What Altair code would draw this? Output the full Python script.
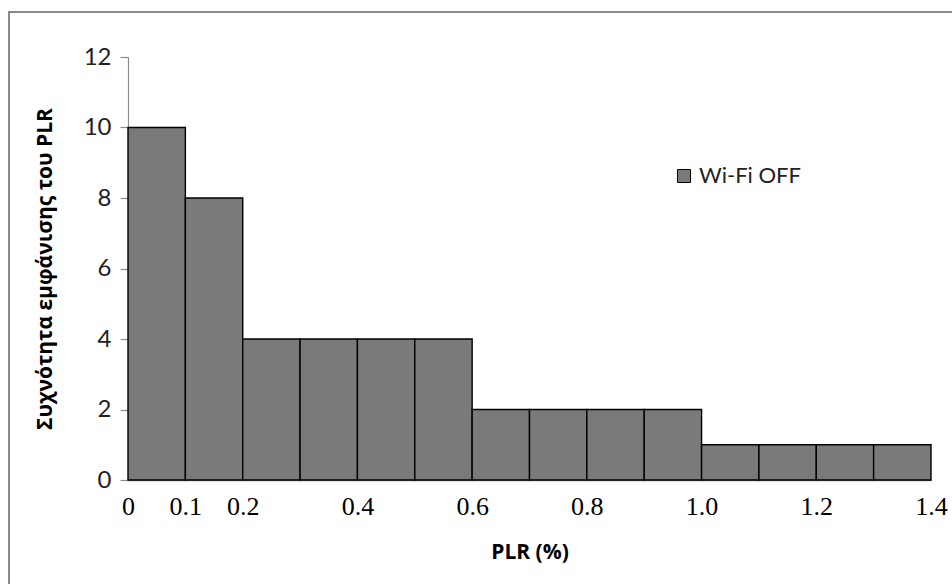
import altair as alt
import pandas as pd

# Histogram bins of packet loss ratio (PLR, %) and their occurrence counts
bin_start = [0.0, 0.1, 0.2, 0.3, 0.4, 0.5, 0.6, 0.7, 0.8, 0.9, 1.0, 1.1, 1.2, 1.3]
bin_end = [0.1, 0.2, 0.3, 0.4, 0.5, 0.6, 0.7, 0.8, 0.9, 1.0, 1.1, 1.2, 1.3, 1.4]
frequency = [10, 8, 4, 4, 4, 4, 2, 2, 2, 2, 1, 1, 1, 1]
x_ticks = [0, 0.1, 0.2, 0.4, 0.6, 0.8, 1.0, 1.2, 1.4]
y_ticks = [0, 2, 4, 6, 8, 10, 12]
series_name = "Wi-Fi OFF"

df = pd.DataFrame({
    "start": bin_start,
    "end": bin_end,
    "freq": frequency,
    "series": [series_name] * len(frequency),
})

PLOT_W, PLOT_H = 803, 423
PAD_L, PAD_T = 128, 57
BAR_GRAY = "#7a7a7a"
AXIS_GRAY = "#8c8c8c"

bars = alt.Chart(df).mark_rect(
    stroke="black", strokeWidth=1.4
).encode(
    x=alt.X(
        "start:Q",
        scale=alt.Scale(domain=[0, 1.4], nice=False, zero=True),
        axis=alt.Axis(
            values=x_ticks,
            labelExpr="datum.value == 0 ? '0' : format(datum.value, '.1f')",
            grid=False,
            ticks=False,
            domainColor=AXIS_GRAY,
            domainWidth=1.5,
            labelFont="Liberation Serif",
            labelFontSize=26,
            labelColor="black",
            labelPadding=13,
            labelFlush=False,
            title="PLR (%)",
            titleFont="Open Sans",
            titleFontSize=21,
            titleFontWeight="bold",
            titleColor="black",
            titleX=PLOT_W / 2,
            titleY=72,
            titleBaseline="middle",
            titleAnchor="middle",
        ),
    ),
    x2="end:Q",
    y=alt.Y(
        "freq:Q",
        scale=alt.Scale(domain=[0, 12], nice=False),
        axis=alt.Axis(
            values=y_ticks,
            grid=False,
            domainColor=AXIS_GRAY,
            domainWidth=1.2,
            tickColor=AXIS_GRAY,
            tickSize=8,
            tickWidth=1.2,
            labelFont="Lato",
            labelFontSize=24,
            labelColor="#222222",
            labelPadding=9,
            title="Συχνότητα εμφάνισης του PLR",
            titleFont="Open Sans",
            titleFontSize=21,
            titleFontWeight="bold",
            titleColor="black",
            titleAngle=270,
            titleX=-83,
            titleY=PLOT_H / 2,
            titleAlign="center",
            titleBaseline="middle",
        ),
    ),
    y2=alt.datum(0),
    color=alt.Color(
        "series:N",
        scale=alt.Scale(domain=[series_name], range=[BAR_GRAY]),
        legend=alt.Legend(
            orient="none",
            legendX=545,
            legendY=108,
            title=None,
            symbolType="square",
            symbolSize=170,
            symbolStrokeColor="black",
            symbolStrokeWidth=1,
            labelFont="Lato",
            labelFontSize=22,
            labelColor="#222222",
            labelOffset=4,
        ),
    ),
)

# Frame lines along the top and left edges of the figure
frame_src = alt.Data(values=[{"k": 0}])
frame_top = alt.Chart(frame_src).mark_rule(color="#8a8a8a", strokeWidth=2).encode(
    x=alt.value(8 - PAD_L), x2=alt.value(952 - PAD_L), y=alt.value(12 - PAD_T)
)
frame_left = alt.Chart(frame_src).mark_rule(color="#8a8a8a", strokeWidth=2).encode(
    x=alt.value(9 - PAD_L), y=alt.value(12 - PAD_T), y2=alt.value(584 - PAD_T)
)

chart = alt.layer(bars, frame_top, frame_left).properties(
    width=PLOT_W,
    height=PLOT_H,
    autosize=alt.AutoSizeParams(type="none"),
    padding={"left": PAD_L, "top": PAD_T, "right": 952 - PAD_L - PLOT_W, "bottom": 584 - PAD_T - PLOT_H},
    background="white",
).configure_view(stroke=None)

chart.save("out.html", embed_options={"renderer": "svg", "actions": False})
